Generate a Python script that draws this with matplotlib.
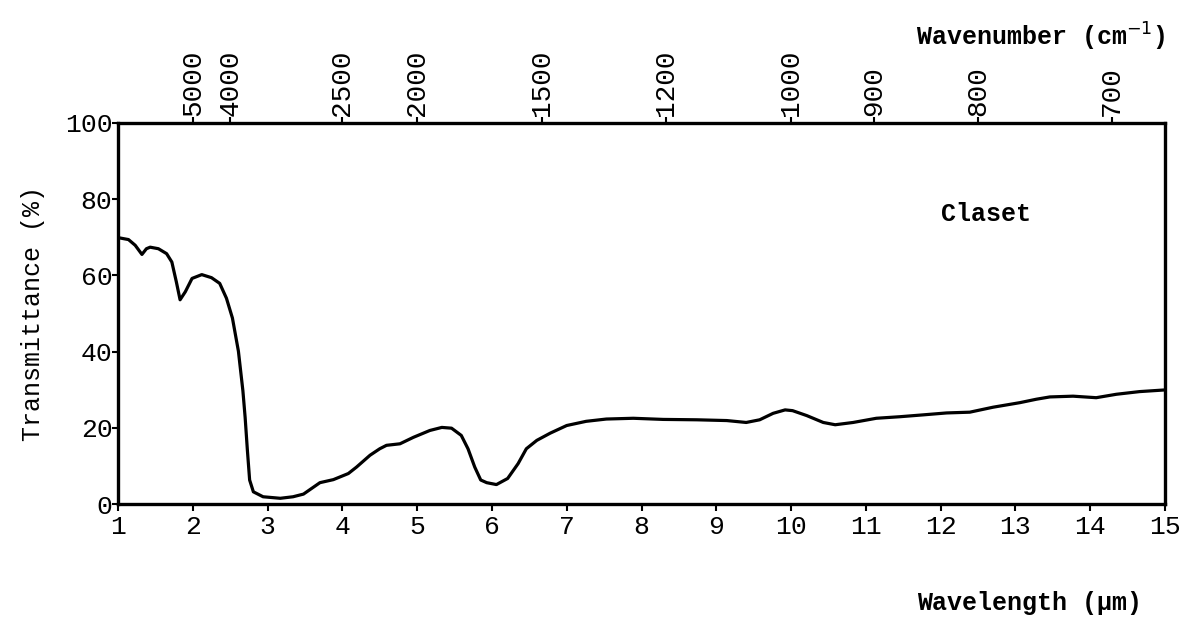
import matplotlib
matplotlib.use("Agg")
import matplotlib.pyplot as plt

# transmittance curve (wavelength in um, transmittance in %)
wavelength = [1.03, 1.14, 1.23, 1.32, 1.38, 1.43, 1.54, 1.65, 1.72, 1.78, 1.83, 1.90,
              1.99, 2.12, 2.25, 2.36, 2.45, 2.53, 2.61, 2.67, 2.70, 2.73, 2.76, 2.81,
              2.94, 3.17, 3.34, 3.48, 3.59, 3.70, 3.88, 4.08, 4.19, 4.37, 4.50, 4.59,
              4.77, 4.95, 5.17, 5.33, 5.46, 5.59, 5.68, 5.77, 5.85, 5.93, 6.06, 6.21,
              6.35, 6.46, 6.60, 6.78, 7.00, 7.26, 7.53, 7.89, 8.29, 8.74, 9.14, 9.40,
              9.58, 9.76, 9.92, 10.02, 10.21, 10.43, 10.59, 10.83, 11.14, 11.45, 11.77,
              12.08, 12.39, 12.70, 13.06, 13.28, 13.46, 13.77, 14.08, 14.35, 14.66, 14.97]
transmittance = [69.8, 69.4, 67.9, 65.5, 67.0, 67.4, 67.0, 65.7, 63.5, 58.3, 53.6, 55.7,
                 59.2, 60.2, 59.4, 57.9, 54.0, 48.8, 40.1, 29.7, 22.7, 14.1, 6.3, 3.2,
                 1.9, 1.5, 1.9, 2.6, 4.1, 5.6, 6.4, 8.0, 9.7, 12.8, 14.5, 15.4,
                 15.8, 17.5, 19.3, 20.1, 19.9, 18.0, 14.5, 9.7, 6.3, 5.6, 5.1, 6.7,
                 10.6, 14.5, 16.7, 18.6, 20.6, 21.7, 22.3, 22.5, 22.2, 22.1, 21.9, 21.4,
                 22.1, 23.8, 24.7, 24.5, 23.2, 21.4, 20.8, 21.4, 22.5, 22.9, 23.4,
                 23.9, 24.1, 25.4, 26.6, 27.5, 28.1, 28.3, 27.9, 28.8, 29.5, 29.9]

wl_ticks = list(range(1, 16))
t_ticks = [0, 20, 40, 60, 80, 100]
wn_ticks = [5000, 4000, 2500, 2000, 1500, 1200, 1000, 900, 800, 700]

mono = "Liberation Mono"

fig = plt.figure(figsize=(11.86, 6.22), dpi=100)
ax = fig.add_axes([0.0995, 0.1897, 0.8828, 0.6126])

ax.plot(wavelength, transmittance, color="black", lw=2.3)

ax.set_xlim(1, 15)
ax.set_ylim(0, 100)
ax.set_xticks(wl_ticks)
ax.set_xticklabels([str(t) for t in wl_ticks], fontsize=19, family=mono)
ax.set_yticks(t_ticks)
ax.set_yticklabels([str(t) for t in t_ticks], fontsize=19, family=mono)
ax.tick_params(axis="x", direction="out", length=5, width=1.5, pad=3)
ax.tick_params(axis="y", direction="out", length=4, width=1.5, pad=0)
for s in ax.spines.values():
    s.set_linewidth(2.4)

ax.set_ylabel("Transmittance (%)", fontsize=18, family=mono, labelpad=14)
fig.text(0.963, 0.03, "Wavelength (µm)", fontsize=18, family=mono,
         weight="bold", ha="right", va="center")

# top axis: wavenumber = 10000 / wavelength
ax2 = ax.twiny()
ax2.set_xlim(ax.get_xlim())
ax2.set_xticks([1e4 / w for w in wn_ticks])
ax2.set_xticklabels([str(w) for w in wn_ticks], rotation=90, fontsize=20, family=mono)
ax2.tick_params(axis="x", direction="out", length=4, width=1.5, pad=1)
fig.text(0.983, 0.94, "Wavenumber (cm$^{-1}$)", fontsize=18, family=mono,
         weight="bold", ha="right", va="center")

ax.text(12.6, 76, "Claset", fontsize=18, family=mono, weight="bold",
        ha="center", va="center")

fig.savefig("out.png", dpi=100)
